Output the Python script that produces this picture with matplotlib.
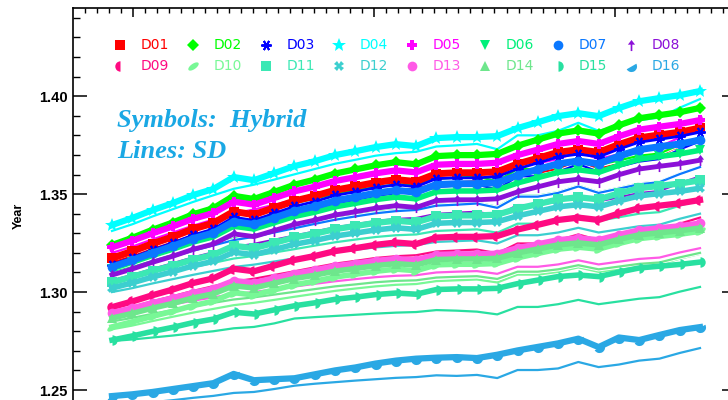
import numpy as np
import matplotlib
matplotlib.use("Agg")
import matplotlib.pyplot as plt
import matplotlib.patheffects as pe
from matplotlib.lines import Line2D
from matplotlib.path import Path
from matplotlib.markers import MarkerStyle
from matplotlib.transforms import Affine2D
from matplotlib.ticker import FixedLocator, MultipleLocator, FormatStrFormatter

plt.rcParams['font.family'] = ['Liberation Sans', 'DejaVu Sans']

# time steps (30 samples)
x = np.arange(30)

# ---- Symbols: Hybrid ----
d01_hybrid = [1.3173, 1.3208, 1.3247, 1.3282, 1.3322, 1.3352, 1.3411, 1.3395, 1.3430, 1.3465, 1.3490, 1.3520, 1.3539, 1.3559, 1.3574, 1.3564, 1.3604, 1.3609, 1.3609, 1.3614, 1.3654, 1.3683, 1.3713, 1.3727, 1.3713, 1.3753, 1.3787, 1.3802, 1.3816, 1.3837]
d02_hybrid = [1.3240, 1.3277, 1.3318, 1.3355, 1.3397, 1.3428, 1.3491, 1.3475, 1.3511, 1.3548, 1.3574, 1.3605, 1.3626, 1.3647, 1.3663, 1.3652, 1.3694, 1.3699, 1.3699, 1.3705, 1.3747, 1.3778, 1.3809, 1.3825, 1.3809, 1.3851, 1.3887, 1.3903, 1.3918, 1.3940]
d03_hybrid = [1.3140, 1.3176, 1.3215, 1.3251, 1.3291, 1.3322, 1.3382, 1.3366, 1.3402, 1.3437, 1.3462, 1.3493, 1.3512, 1.3533, 1.3548, 1.3538, 1.3579, 1.3583, 1.3583, 1.3589, 1.3629, 1.3659, 1.3690, 1.3704, 1.3690, 1.3730, 1.3765, 1.3780, 1.3795, 1.3816]
d04_hybrid = [1.3342, 1.3378, 1.3418, 1.3454, 1.3495, 1.3526, 1.3587, 1.3571, 1.3607, 1.3643, 1.3668, 1.3699, 1.3719, 1.3740, 1.3755, 1.3745, 1.3786, 1.3791, 1.3791, 1.3796, 1.3837, 1.3867, 1.3898, 1.3913, 1.3898, 1.3939, 1.3974, 1.3990, 1.4005, 1.4026]
d05_hybrid = [1.3228, 1.3262, 1.3300, 1.3335, 1.3374, 1.3403, 1.3461, 1.3446, 1.3480, 1.3514, 1.3538, 1.3567, 1.3586, 1.3606, 1.3621, 1.3611, 1.3650, 1.3654, 1.3654, 1.3660, 1.3699, 1.3727, 1.3756, 1.3771, 1.3756, 1.3795, 1.3829, 1.3844, 1.3858, 1.3878]
d06_hybrid = [1.3120, 1.3152, 1.3187, 1.3219, 1.3255, 1.3282, 1.3336, 1.3322, 1.3354, 1.3386, 1.3408, 1.3435, 1.3453, 1.3472, 1.3485, 1.3476, 1.3512, 1.3516, 1.3516, 1.3521, 1.3557, 1.3584, 1.3611, 1.3624, 1.3611, 1.3647, 1.3678, 1.3692, 1.3705, 1.3724]
d07_hybrid = [1.3128, 1.3162, 1.3200, 1.3234, 1.3273, 1.3302, 1.3360, 1.3345, 1.3379, 1.3413, 1.3437, 1.3466, 1.3485, 1.3505, 1.3519, 1.3510, 1.3549, 1.3553, 1.3553, 1.3558, 1.3597, 1.3626, 1.3655, 1.3669, 1.3655, 1.3694, 1.3727, 1.3742, 1.3756, 1.3776]
d08_hybrid = [1.3087, 1.3118, 1.3152, 1.3183, 1.3218, 1.3245, 1.3297, 1.3283, 1.3314, 1.3345, 1.3367, 1.3393, 1.3410, 1.3428, 1.3441, 1.3432, 1.3467, 1.3471, 1.3471, 1.3476, 1.3511, 1.3537, 1.3563, 1.3576, 1.3563, 1.3599, 1.3628, 1.3642, 1.3655, 1.3673]
d09_hybrid = [1.2923, 1.2952, 1.2984, 1.3013, 1.3046, 1.3070, 1.3119, 1.3106, 1.3135, 1.3164, 1.3184, 1.3209, 1.3224, 1.3241, 1.3253, 1.3245, 1.3278, 1.3282, 1.3282, 1.3286, 1.3319, 1.3343, 1.3368, 1.3380, 1.3368, 1.3401, 1.3428, 1.3441, 1.3453, 1.3470]
d10_hybrid = [1.2822, 1.2848, 1.2876, 1.2902, 1.2931, 1.2953, 1.2997, 1.2985, 1.3011, 1.3037, 1.3055, 1.3077, 1.3091, 1.3106, 1.3117, 1.3109, 1.3139, 1.3142, 1.3142, 1.3146, 1.3175, 1.3197, 1.3219, 1.3229, 1.3219, 1.3248, 1.3273, 1.3284, 1.3295, 1.3310]
d11_hybrid = [1.3050, 1.3078, 1.3108, 1.3135, 1.3166, 1.3190, 1.3236, 1.3224, 1.3251, 1.3279, 1.3298, 1.3321, 1.3337, 1.3353, 1.3364, 1.3356, 1.3387, 1.3391, 1.3391, 1.3395, 1.3426, 1.3449, 1.3473, 1.3484, 1.3473, 1.3504, 1.3530, 1.3542, 1.3554, 1.3570]
d12_hybrid = [1.3020, 1.3047, 1.3077, 1.3104, 1.3134, 1.3157, 1.3203, 1.3191, 1.3217, 1.3244, 1.3263, 1.3286, 1.3301, 1.3317, 1.3328, 1.3320, 1.3351, 1.3355, 1.3355, 1.3359, 1.3389, 1.3412, 1.3435, 1.3446, 1.3435, 1.3465, 1.3491, 1.3503, 1.3514, 1.3530]
d13_hybrid = [1.2893, 1.2917, 1.2944, 1.2968, 1.2995, 1.3016, 1.3057, 1.3046, 1.3070, 1.3094, 1.3111, 1.3132, 1.3145, 1.3159, 1.3169, 1.3162, 1.3190, 1.3193, 1.3193, 1.3196, 1.3224, 1.3244, 1.3265, 1.3275, 1.3265, 1.3292, 1.3315, 1.3326, 1.3336, 1.3350]
d14_hybrid = [1.2867, 1.2891, 1.2918, 1.2942, 1.2970, 1.2991, 1.3032, 1.3021, 1.3045, 1.3069, 1.3086, 1.3107, 1.3120, 1.3135, 1.3145, 1.3138, 1.3166, 1.3169, 1.3169, 1.3172, 1.3200, 1.3220, 1.3241, 1.3251, 1.3241, 1.3269, 1.3292, 1.3303, 1.3313, 1.3327]
d15_hybrid = [1.2755, 1.2776, 1.2799, 1.2820, 1.2844, 1.2862, 1.2897, 1.2888, 1.2909, 1.2930, 1.2945, 1.2963, 1.2974, 1.2987, 1.2995, 1.2989, 1.3013, 1.3016, 1.3016, 1.3019, 1.3043, 1.3061, 1.3079, 1.3087, 1.3079, 1.3102, 1.3123, 1.3132, 1.3141, 1.3153]
d16_hybrid = [1.2469, 1.2478, 1.2490, 1.2505, 1.2520, 1.2535, 1.2582, 1.2550, 1.2555, 1.2560, 1.2580, 1.2600, 1.2615, 1.2635, 1.2650, 1.2660, 1.2665, 1.2668, 1.2663, 1.2680, 1.2702, 1.2720, 1.2738, 1.2762, 1.2719, 1.2768, 1.2755, 1.2781, 1.2806, 1.2821]

# ---- Lines: SD ----
d01_sd = [1.3150, 1.3182, 1.3219, 1.3254, 1.3289, 1.3320, 1.3352, 1.3371, 1.3396, 1.3421, 1.3446, 1.3471, 1.3490, 1.3509, 1.3522, 1.3528, 1.3553, 1.3560, 1.3566, 1.3541, 1.3607, 1.3607, 1.3629, 1.3667, 1.3629, 1.3654, 1.3679, 1.3692, 1.3739, 1.3780]
d02_sd = [1.3200, 1.3230, 1.3265, 1.3297, 1.3330, 1.3359, 1.3389, 1.3407, 1.3430, 1.3454, 1.3477, 1.3501, 1.3519, 1.3536, 1.3548, 1.3554, 1.3578, 1.3584, 1.3589, 1.3566, 1.3628, 1.3628, 1.3648, 1.3684, 1.3648, 1.3672, 1.3696, 1.3707, 1.3752, 1.3790]
d03_sd = [1.3120, 1.3153, 1.3192, 1.3227, 1.3263, 1.3296, 1.3328, 1.3348, 1.3374, 1.3400, 1.3426, 1.3452, 1.3471, 1.3491, 1.3504, 1.3510, 1.3536, 1.3543, 1.3549, 1.3523, 1.3591, 1.3591, 1.3614, 1.3653, 1.3614, 1.3640, 1.3666, 1.3679, 1.3728, 1.3770]
d04_sd = [1.3312, 1.3346, 1.3386, 1.3423, 1.3460, 1.3494, 1.3527, 1.3548, 1.3574, 1.3601, 1.3628, 1.3655, 1.3675, 1.3696, 1.3709, 1.3716, 1.3743, 1.3749, 1.3756, 1.3729, 1.3800, 1.3800, 1.3823, 1.3864, 1.3823, 1.3850, 1.3877, 1.3891, 1.3941, 1.3985]
d05_sd = [1.3200, 1.3232, 1.3269, 1.3304, 1.3339, 1.3370, 1.3402, 1.3421, 1.3446, 1.3471, 1.3496, 1.3521, 1.3540, 1.3559, 1.3572, 1.3578, 1.3603, 1.3610, 1.3616, 1.3591, 1.3657, 1.3657, 1.3679, 1.3717, 1.3679, 1.3704, 1.3729, 1.3742, 1.3789, 1.3830]
d06_sd = [1.3100, 1.3127, 1.3159, 1.3189, 1.3219, 1.3246, 1.3273, 1.3289, 1.3311, 1.3332, 1.3354, 1.3375, 1.3392, 1.3408, 1.3419, 1.3424, 1.3446, 1.3451, 1.3456, 1.3435, 1.3492, 1.3492, 1.3510, 1.3543, 1.3510, 1.3532, 1.3554, 1.3564, 1.3605, 1.3640]
d07_sd = [1.3090, 1.3117, 1.3150, 1.3180, 1.3211, 1.3238, 1.3265, 1.3282, 1.3304, 1.3326, 1.3348, 1.3369, 1.3386, 1.3402, 1.3413, 1.3419, 1.3441, 1.3446, 1.3452, 1.3430, 1.3487, 1.3487, 1.3506, 1.3539, 1.3506, 1.3528, 1.3550, 1.3561, 1.3602, 1.3638]
d08_sd = [1.3060, 1.3087, 1.3118, 1.3147, 1.3177, 1.3203, 1.3230, 1.3246, 1.3267, 1.3288, 1.3309, 1.3330, 1.3346, 1.3362, 1.3373, 1.3378, 1.3399, 1.3405, 1.3410, 1.3389, 1.3444, 1.3444, 1.3463, 1.3495, 1.3463, 1.3484, 1.3505, 1.3516, 1.3556, 1.3590]
d09_sd = [1.2900, 1.2924, 1.2953, 1.2979, 1.3006, 1.3030, 1.3054, 1.3068, 1.3087, 1.3106, 1.3126, 1.3145, 1.3159, 1.3174, 1.3183, 1.3188, 1.3207, 1.3212, 1.3217, 1.3198, 1.3248, 1.3248, 1.3265, 1.3294, 1.3265, 1.3284, 1.3303, 1.3313, 1.3349, 1.3380]
d10_sd = [1.2810, 1.2829, 1.2852, 1.2874, 1.2895, 1.2914, 1.2933, 1.2945, 1.2960, 1.2976, 1.2991, 1.3006, 1.3018, 1.3029, 1.3037, 1.3041, 1.3056, 1.3060, 1.3064, 1.3049, 1.3089, 1.3089, 1.3103, 1.3126, 1.3103, 1.3118, 1.3133, 1.3141, 1.3170, 1.3195]
d11_sd = [1.3030, 1.3052, 1.3078, 1.3103, 1.3127, 1.3149, 1.3171, 1.3184, 1.3202, 1.3219, 1.3237, 1.3254, 1.3268, 1.3281, 1.3290, 1.3294, 1.3312, 1.3316, 1.3320, 1.3303, 1.3349, 1.3349, 1.3364, 1.3391, 1.3364, 1.3382, 1.3400, 1.3408, 1.3441, 1.3470]
d12_sd = [1.3000, 1.3020, 1.3044, 1.3066, 1.3088, 1.3108, 1.3128, 1.3140, 1.3156, 1.3172, 1.3188, 1.3204, 1.3216, 1.3228, 1.3236, 1.3240, 1.3256, 1.3260, 1.3264, 1.3248, 1.3290, 1.3290, 1.3304, 1.3328, 1.3304, 1.3320, 1.3336, 1.3344, 1.3374, 1.3400]
d13_sd = [1.2880, 1.2897, 1.2918, 1.2937, 1.2956, 1.2973, 1.2990, 1.3000, 1.3014, 1.3028, 1.3042, 1.3055, 1.3066, 1.3076, 1.3083, 1.3086, 1.3100, 1.3104, 1.3107, 1.3093, 1.3129, 1.3129, 1.3141, 1.3162, 1.3141, 1.3155, 1.3169, 1.3176, 1.3202, 1.3224]
d14_sd = [1.2850, 1.2868, 1.2889, 1.2908, 1.2927, 1.2945, 1.2962, 1.2973, 1.2987, 1.3001, 1.3015, 1.3029, 1.3039, 1.3050, 1.3057, 1.3060, 1.3074, 1.3078, 1.3081, 1.3067, 1.3104, 1.3104, 1.3116, 1.3137, 1.3116, 1.3130, 1.3144, 1.3151, 1.3177, 1.3200]
d15_sd = [1.2750, 1.2758, 1.2768, 1.2778, 1.2790, 1.2800, 1.2815, 1.2822, 1.2840, 1.2865, 1.2872, 1.2878, 1.2884, 1.2890, 1.2895, 1.2898, 1.2908, 1.2905, 1.2900, 1.2886, 1.2924, 1.2924, 1.2938, 1.2960, 1.2938, 1.2952, 1.2966, 1.2974, 1.3002, 1.3026]
d16_sd = [1.2420, 1.2428, 1.2438, 1.2448, 1.2460, 1.2470, 1.2485, 1.2490, 1.2505, 1.2522, 1.2532, 1.2540, 1.2548, 1.2555, 1.2562, 1.2566, 1.2575, 1.2572, 1.2577, 1.2561, 1.2602, 1.2602, 1.2610, 1.2643, 1.2617, 1.2630, 1.2650, 1.2660, 1.2689, 1.2714]

names = ['D01', 'D02', 'D03', 'D04', 'D05', 'D06', 'D07', 'D08',
         'D09', 'D10', 'D11', 'D12', 'D13', 'D14', 'D15', 'D16']
hybrid = [d01_hybrid, d02_hybrid, d03_hybrid, d04_hybrid, d05_hybrid, d06_hybrid, d07_hybrid, d08_hybrid,
          d09_hybrid, d10_hybrid, d11_hybrid, d12_hybrid, d13_hybrid, d14_hybrid, d15_hybrid, d16_hybrid]
sd = [d01_sd, d02_sd, d03_sd, d04_sd, d05_sd, d06_sd, d07_sd, d08_sd,
      d09_sd, d10_sd, d11_sd, d12_sd, d13_sd, d14_sd, d15_sd, d16_sd]

colors = ['#FF0000', '#00FF00', '#0000FF', '#00FFFF', '#FF00FF', '#00F07A', '#0A78FF', '#8C10D8',
          '#FF0A82', '#78F896', '#3CE8B4', '#3CCFCF', '#FF5AE6', '#6EE68C', '#28E0A0', '#2AA8E4']

# custom symbol shapes
arrow = Path([(-0.15, -1), (0.15, -1), (0.15, 0.15), (0.65, 0.15), (0, 1), (-0.65, 0.15),
              (-0.15, 0.15), (-0.15, -1)], closed=True)
t = np.linspace(0, 2 * np.pi, 40)
leaf = Path(np.column_stack([np.cos(t), 0.45 * np.sin(t)]))
leaf = leaf.transformed(Affine2D().rotate_deg(35))

# (marker, fillstyle, size, edge width)
symbols = [
    ('s', 'full', 6.5, 0), ('D', 'full', 6.0, 0), ((6, 2, 90), 'full', 7.5, 1.4), ('*', 'full', 10.0, 0),
    ('P', 'full', 7.5, 0), ('v', 'full', 7.0, 0), ('o', 'full', 7.0, 0), (arrow, 'full', 8.0, 0),
    ('o', 'left', 7.5, 0), (leaf, 'full', 7.5, 0), ('s', 'full', 6.5, 0), ('X', 'full', 7.0, 0),
    ('o', 'full', 7.0, 0), ('^', 'full', 7.0, 0), ('o', 'right', 7.5, 0),
    (MarkerStyle('o', 'bottom', Affine2D().rotate_deg(30)), 'bottom', 8.0, 0),
]
band_width = [5.0, 4.5, 2.0, 4.5, 4.5, 4.0, 5.0, 3.5, 4.5, 4.0, 4.5, 4.0, 4.5, 4.0, 4.0, 4.5]

W, H = 728, 400
fig = plt.figure(figsize=(W / 100, H / 100), dpi=100)

# axes box in pixels (bottom and right edges fall outside the picture)
ax_l, ax_r, ax_t, ax_b = 73, 736, 8, 438
ax = fig.add_axes([ax_l / W, 1 - ax_b / H, (ax_r - ax_l) / W, (ax_b - ax_t) / H])

# first sample sits at px 112, last at px 700
px0, px1 = 112, 700
ppu = (px1 - px0) / (len(x) - 1)
ax.set_xlim((ax_l - px0) / ppu, (ax_r - px0) / ppu)
ax.set_ylim(1.2255, 1.445)

for i in range(16):
    ax.plot(x, sd[i], color=colors[i], lw=1.6, zorder=2,
            path_effects=[pe.withStroke(linewidth=3.0, foreground='white')])

for i in range(16):
    mk, fs, ms, mew = symbols[i]
    ax.plot(x, hybrid[i], color=colors[i], lw=band_width[i], marker=mk, fillstyle=fs, ms=ms,
            mew=mew, mec=colors[i], mfc=colors[i], markerfacecoloralt='none', zorder=3)

# axis ticks
ax.yaxis.set_major_locator(MultipleLocator(0.05))
ax.yaxis.set_minor_locator(MultipleLocator(0.01))
ax.yaxis.set_major_formatter(FormatStrFormatter('%.2f'))
major_px = np.arange(133 - 241, ax_r, 241)
minor_px = np.arange(133 - 241, ax_r, 241 / 20)
ax.xaxis.set_major_locator(FixedLocator((major_px - px0) / ppu))
ax.xaxis.set_minor_locator(FixedLocator((minor_px - px0) / ppu))

ax.tick_params(axis='y', which='major', direction='in', length=10, width=1.1,
               left=True, right=True, labelsize=10.5, pad=4)
ax.tick_params(axis='y', which='minor', direction='in', length=5, width=1.0, left=True, right=True)
ax.tick_params(axis='x', which='major', direction='in', length=6.5, width=1.1,
               top=True, bottom=True, labelbottom=False)
ax.tick_params(axis='x', which='minor', direction='in', length=3.5, width=1.0, top=True, bottom=True)
for lbl in ax.get_yticklabels():
    lbl.set_fontweight('bold')
for sp in ax.spines.values():
    sp.set_linewidth(1.2)

ax.set_ylabel('Year', fontsize=9, fontweight='bold')
ax.yaxis.set_label_coords((25 - ax_l) / (ax_r - ax_l), (ax_b - 216) / (ax_b - ax_t))

# legend: two rows of eight
for k in range(16):
    row, col = k // 8, k % 8
    mx = (120 + 73 * col) / W
    my = 1 - (45 + 21 * row) / H
    mk, fs, ms, mew = symbols[k]
    fig.add_artist(Line2D([mx], [my], transform=fig.transFigure, ls='none', marker=mk,
                          fillstyle=fs, ms=ms, mew=mew, color=colors[k], mec=colors[k],
                          mfc=colors[k], markerfacecoloralt='none'))
    fig.text(mx + 20.5 / W, my, names[k], color=colors[k], fontsize=10,
             family='DejaVu Sans', ha='left', va='center')

note = dict(fontsize=19, family='Liberation Serif', style='italic', weight='bold', color='#1AA8E4')
fig.text(117 / W, 1 - 127 / H, 'Symbols:  Hybrid', va='baseline', **note)
fig.text(117 / W, 1 - 158 / H, 'Lines: SD', va='baseline', **note)

fig.savefig('out.png', dpi=100)
